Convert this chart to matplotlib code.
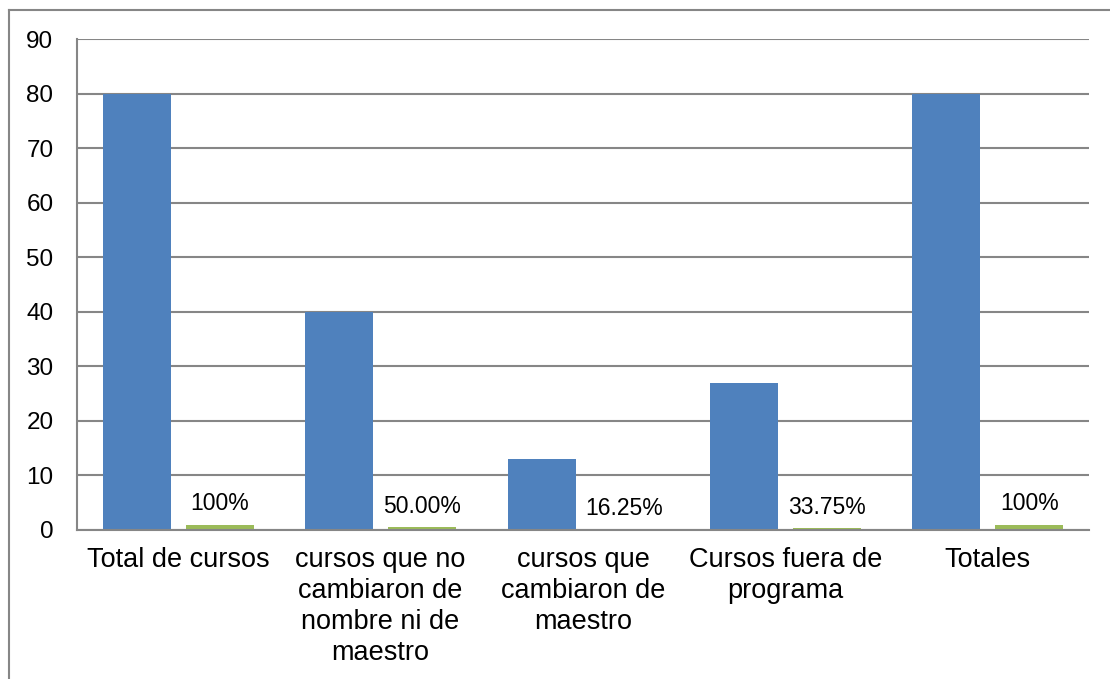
import matplotlib
matplotlib.use("Agg")
import matplotlib.pyplot as plt
from matplotlib.lines import Line2D
import numpy as np

categories = ["Total de cursos",
              "cursos que no\ncambiaron de\nnombre ni de\nmaestro",
              "cursos que\ncambiaron de\nmaestro",
              "Cursos fuera de\nprograma",
              "Totales"]
counts = [80, 40, 13, 27, 80]
fractions = [1.0, 0.5, 0.1625, 0.3375, 1.0]
frac_labels = ["100%", "50.00%", "16.25%", "33.75%", "100%"]
yticks = [0, 10, 20, 30, 40, 50, 60, 70, 80, 90]

plt.rcParams['font.family'] = ['Liberation Sans', 'DejaVu Sans']

W, H = 1110, 679
fig = plt.figure(figsize=(W / 100, H / 100), dpi=100)
ax = fig.add_axes([77 / W, 1 - 530 / H, (1089 - 77) / W, (530 - 39) / H])

x = np.arange(len(categories))
bw = 0.336
off = 0.205
blue = "#4F81BD"
green = "#9BBB59"
gray = "#868686"

ax.bar(x - off, counts, width=bw, color=blue, zorder=3)
gb = ax.bar(x + off, fractions, width=bw, color=green, zorder=3)
for rect, lab in zip(gb, frac_labels):
    ax.annotate(lab, (rect.get_x() + rect.get_width() / 2, rect.get_height()),
                xytext=(0, 10.5), textcoords="offset points",
                ha="center", va="baseline", fontsize=16.5, color="black")

ax.set_xlim(-0.5, len(categories) - 0.5)
ax.set_ylim(0, 90)
ax.set_yticks(yticks)
ax.set_yticklabels([str(v) for v in yticks], fontsize=17.5)
ax.set_xticks(x)
ax.set_xticklabels(categories, fontsize=19.5, linespacing=1.26, va="top")
ax.tick_params(axis="both", length=0)
ax.tick_params(axis="y", pad=17)
ax.tick_params(axis="x", pad=12)

ax.yaxis.grid(True, color=gray, linewidth=1.5, zorder=0)
ax.set_axisbelow(True)
for s in ["top", "right"]:
    ax.spines[s].set_visible(False)
for s in ["left", "bottom"]:
    ax.spines[s].set_color(gray)
    ax.spines[s].set_linewidth(1.5)
    ax.spines[s].set_zorder(4)

# outer chart border (top and left visible)
fig.add_artist(Line2D([9 / W, 1.0], [1 - 10 / H, 1 - 10 / H], transform=fig.transFigure,
                      color=gray, linewidth=1.5))
fig.add_artist(Line2D([9 / W, 9 / W], [0, 1 - 10 / H], transform=fig.transFigure,
                      color=gray, linewidth=1.5))

fig.savefig("out.png", dpi=100)
